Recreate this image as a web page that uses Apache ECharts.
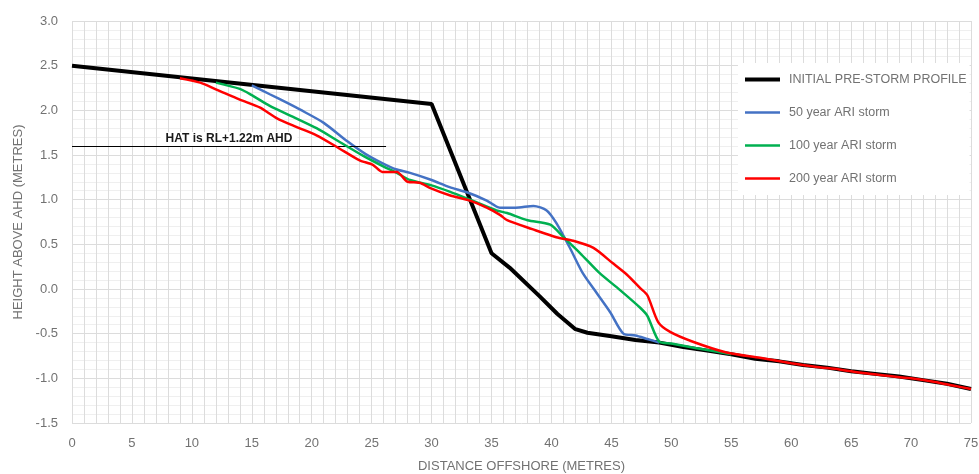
<!DOCTYPE html>
<html>
<head>
<meta charset="utf-8">
<script src="https://cdn.jsdelivr.net/npm/echarts@6/dist/echarts.min.js"></script>
<style>html,body{margin:0;padding:0;background:#fff}#c{width:979px;height:474px}</style>
</head>
<body>
<div id="c"></div>
<script>
const seriesNames = ['INITIAL PRE-STORM PROFILE', '50 year ARI storm', '100 year ARI storm', '200 year ARI storm'];
const xTicks = [0, 5, 10, 15, 20, 25, 30, 35, 40, 45, 50, 55, 60, 65, 70, 75];
const yTicks = [-1.5, -1.0, -0.5, 0.0, 0.5, 1.0, 1.5, 2.0, 2.5, 3.0];

const initialProfile = [[0,2.5],[30,2.07],[35,0.40],[36.5,0.24],[39,-0.08],[40.5,-0.28],[42,-0.45],[43,-0.49],[45,-0.53],[47,-0.57],[49,-0.60],[51,-0.65],[53,-0.69],[55,-0.73],[57,-0.78],[59,-0.81],[61,-0.85],[63,-0.88],[65,-0.92],[67,-0.95],[69,-0.98],[71,-1.02],[73,-1.06],[75,-1.12]];
const storm50 = [[15,2.28],[16.5,2.18],[18,2.08],[19,2.01],[21,1.86],[23,1.65],[24.5,1.51],[26,1.40],[27,1.34],[28.2,1.30],[30,1.22],[31.5,1.14],[33,1.08],[34.6,0.99],[35.7,0.91],[37,0.91],[38.5,0.93],[39.6,0.88],[40.4,0.74],[41.5,0.47],[42.6,0.18],[43.8,-0.05],[44.9,-0.26],[46,-0.50],[47,-0.52],[48,-0.56],[49,-0.60]];
const storm100 = [[12,2.31],[14,2.24],[15,2.17],[16.5,2.05],[18.4,1.93],[20.4,1.80],[22.4,1.64],[24.3,1.49],[26,1.37],[27.1,1.30],[28.2,1.22],[30,1.16],[31.5,1.09],[33.2,1.00],[35.4,0.88],[36.3,0.85],[38,0.77],[39.9,0.72],[41,0.58],[42.4,0.40],[44,0.18],[45.7,-0.01],[47.4,-0.21],[48,-0.30],[49,-0.59],[50,-0.61],[52,-0.66],[55,-0.73]];
const storm200 = [[9,2.36],[10.7,2.31],[12.1,2.23],[14,2.12],[15.7,2.03],[17.1,1.91],[18.8,1.81],[20.4,1.72],[22.1,1.59],[24,1.44],[25.1,1.39],[25.9,1.31],[27.1,1.31],[28,1.20],[29,1.19],[29.9,1.13],[31.5,1.05],[33.2,0.99],[34.6,0.91],[35.7,0.83],[36.3,0.77],[38.4,0.67],[40.4,0.58],[41.8,0.54],[43.5,0.46],[45.1,0.29],[46.3,0.16],[47.4,0.01],[48,-0.07],[48.9,-0.37],[49.9,-0.48],[51.8,-0.59],[54.6,-0.71],[57.4,-0.77],[60,-0.83],[62,-0.87],[64,-0.90],[66,-0.94],[68,-0.97],[70,-1.00],[72,-1.04],[73.5,-1.08],[75,-1.12]];
const hatLabel = 'HAT is RL+1.22m AHD';
const hatLevel = 1.6;
const hatExtent = [0, 26.2];

const chart = echarts.init(document.getElementById('c'));
const font = 'Liberation Sans, Arial, sans-serif';
const grey = '#727272';
const lineWidths = [4, 2.5, 2.5, 2.5];
chart.setOption({
  animation: false,
  grid: { left: 72, right: 8, top: 21, bottom: 51, containLabel: false, outerBoundsMode: 'none' },
  xAxis: {
    type: 'value', min: xTicks[0], max: xTicks[xTicks.length-1], interval: 5,
    name: 'DISTANCE OFFSHORE (METRES)', nameLocation: 'middle', nameGap: 37,
    nameTextStyle: { color: grey, fontSize: 13, fontFamily: font },
    axisLine: { show: false }, axisTick: { show: false },
    axisLabel: { color: grey, fontSize: 13, fontFamily: font, margin: 14 },
    splitLine: { show: true, lineStyle: { color: '#dcdcdc', width: 1 } },
    minorTick: { show: false, splitNumber: 5 },
    minorSplitLine: { show: true, lineStyle: { color: '#dcdcdc', width: 1 } }
  },
  yAxis: {
    type: 'value', min: yTicks[0], max: yTicks[yTicks.length-1], interval: 0.5,
    name: 'HEIGHT ABOVE AHD (METRES)', nameLocation: 'middle', nameGap: 47,
    nameTextStyle: { color: grey, fontSize: 13, fontFamily: font },
    axisLine: { show: false }, axisTick: { show: false },
    axisLabel: { color: grey, fontSize: 13, fontFamily: font, margin: 14, formatter: v => v.toFixed(1) },
    splitLine: { show: true, lineStyle: { color: '#dcdcdc', width: 1 } },
    minorTick: { show: false, splitNumber: 5 },
    minorSplitLine: { show: true, lineStyle: { color: '#efefef', width: 1 } }
  },
  legend: {
    orient: 'vertical', left: 738, top: 63,
    backgroundColor: '#ffffff',
    padding: [10, 3, 10, 5],
    itemWidth: 35, itemHeight: 14, itemGap: 20,
    itemStyle: { opacity: 0 },
    textStyle: { color: grey, fontSize: 12.5, fontFamily: font, padding: [0, 0, 0, 4] },
    data: seriesNames.map((n, i) => ({ name: n, lineStyle: { width: lineWidths[i] } }))
  },
  series: [
    { name: seriesNames[0], type: 'line', data: initialProfile, symbol: 'none', z: 3,
      lineStyle: { color: '#000000', width: lineWidths[0] }, itemStyle: { color: '#000000' } },
    { name: seriesNames[1], type: 'line', data: storm50, symbol: 'none', smooth: 0.25, z: 4,
      lineStyle: { color: '#4472C4', width: lineWidths[1] }, itemStyle: { color: '#4472C4' } },
    { name: seriesNames[2], type: 'line', data: storm100, symbol: 'none', smooth: 0.25, z: 5,
      lineStyle: { color: '#00B050', width: lineWidths[2] }, itemStyle: { color: '#00B050' } },
    { name: seriesNames[3], type: 'line', data: storm200, symbol: 'none', smooth: 0.25, z: 6,
      lineStyle: { color: '#FF0000', width: lineWidths[3] }, itemStyle: { color: '#FF0000' },
      markLine: {
        silent: true, symbol: ['none', 'none'],
        lineStyle: { color: '#000000', width: 1, type: 'solid' },
        label: { show: true, position: 'middle', formatter: hatLabel, color: '#1a1a1a',
          fontWeight: 'bold', fontSize: 12, fontFamily: font,
          backgroundColor: '#ffffff', padding: [1, 5], distance: 0 },
        data: [[{ coord: [hatExtent[0], hatLevel] }, { coord: [hatExtent[1], hatLevel] }]]
      } }
  ]
});
</script>
</body>
</html>
